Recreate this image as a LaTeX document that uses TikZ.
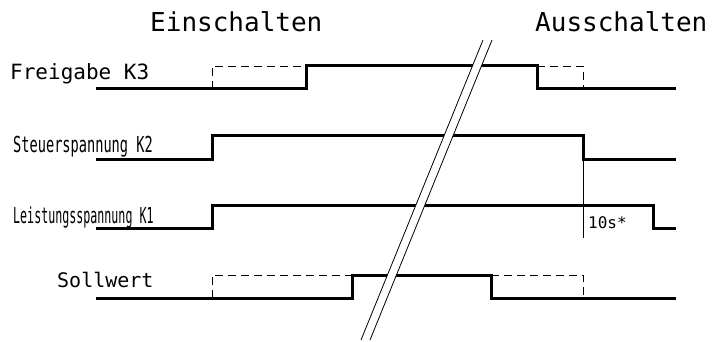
\documentclass[tikz,border=0pt]{standalone}
\usepackage{fontspec}
\setmonofont{DejaVu Sans Mono}
\usepackage{tikz}
\usetikzlibrary{calc,positioning}
\newcommand{\lbl}[1]{\fontsize{#1}{#1}\selectfont\ttfamily}
\tikzset{
  signal/.style={line width=3pt,line join=miter},
  hint/.style={line width=0.8pt,dash pattern=on 8pt off 5pt},
  thinline/.style={line width=0.8pt},
  txt/.style={inner sep=0pt,anchor=base west}
}

\begin{document}
\begin{tikzpicture}[x=1pt,y=-1pt]
\useasboundingbox (0,0) rectangle (728,342);
\newcommand*{\xs}{96}; \newcommand*{\xz}{676};
\newcommand*{\xb}{212}; \newcommand*{\xc}{306}; \newcommand*{\xd}{352};
\newcommand*{\xe}{491}; \newcommand*{\xf}{537}; \newcommand*{\xg}{583}; \newcommand*{\xh}{653};
% headings
\node[txt] (ein) at (150,32) {\lbl{26pt}Einschalten};
\node[txt] (aus) at (535,32) {\lbl{26pt}Ausschalten};
% signal names
\node[txt] (kdrei) at (10,80) {\lbl{21pt}Freigabe K3};
\node[txt] (kzwei) at (13,153) {\scalebox{0.62}[1]{\lbl{22pt}Steuerspannung K2}};
\node[txt] (keins) at (13,223) {\scalebox{0.53}[1]{\lbl{22pt}Leistungsspannung K1}};
\node[txt] (soll) at (57,287) {\lbl{20pt}Sollwert};
\node[txt] (zeit) at (588,228) {\lbl{16pt}10s*};
% Freigabe K3
\draw[hint] (\xb,89) -- (\xb,66) -- (\xc,66);
\draw[hint] (\xf,66) -- (\xg,66) -- (\xg,89);
\draw[signal] (\xs,89) -- (\xc,89) -- (\xc,66) -- (\xf,66) -- (\xf,89) -- (\xz,89);
% Steuerspannung K2
\draw[signal] (\xs,159) -- (\xb,159) -- (\xb,136) -- (\xg,136) -- (\xg,159) -- (\xz,159);
\draw[thinline] (\xg,159) -- (\xg,238);
% Leistungsspannung K1
\draw[signal] (\xs,228) -- (\xb,228) -- (\xb,205) -- (\xh,205) -- (\xh,228) -- (\xz,228);
% Sollwert
\draw[hint] (\xb,298) -- (\xb,275) -- (\xd,275);
\draw[hint] (\xe,275) -- (\xg,275) -- (\xg,298);
\draw[signal] (\xs,298) -- (\xd,298) -- (\xd,275) -- (\xe,275) -- (\xe,298) -- (\xz,298);
% break
\coordinate (sa) at (483,40); \coordinate (sb) at (361,340);
\coordinate (sc) at (492,40); \coordinate (sd) at (370,340);
\fill[white] (sa) -- (sb) -- (sd) -- (sc) -- cycle;
\draw[thinline] (sa) -- (sb);
\draw[thinline] (sc) -- (sd);
\end{tikzpicture}
\end{document}
